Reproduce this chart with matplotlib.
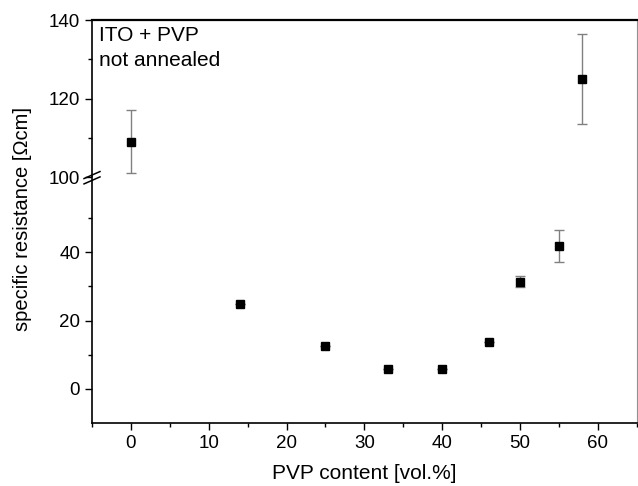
import matplotlib
matplotlib.use("Agg")
import matplotlib.pyplot as plt
from matplotlib.lines import Line2D
from matplotlib.ticker import MultipleLocator, FixedLocator

plt.rcParams["font.family"] = ["Liberation Sans", "DejaVu Sans"]

# PVP content [vol.%] and specific resistance [Ohm cm]
pvp_content = [0, 14, 25, 33, 40, 46, 50, 55, 58]
resistance = [109, 24.8, 12.4, 5.9, 5.8, 13.6, 31.4, 41.8, 125.0]
res_error = [8.0, 0, 0, 0, 0, 0, 1.6, 4.7, 11.4]

BREAK_LOW = 62
BREAK_HIGH = 100

fig = plt.figure(figsize=(6.38, 4.86), dpi=100)
left, right = 0.1442, 0.998
bottom, split, top = 0.1296, 0.6358, 0.9588
ax_hi = fig.add_axes([left, split, right - left, top - split])
ax_lo = fig.add_axes([left, bottom, right - left, split - bottom], sharex=ax_hi)

for ax in (ax_hi, ax_lo):
    ax.errorbar(pvp_content, resistance, yerr=res_error, fmt="s", color="black",
                ms=6, ecolor="#808080", elinewidth=1, capsize=3.5, capthick=1)
    ax.set_xlim(-5, 65)
    ax.xaxis.set_major_locator(MultipleLocator(10))
    ax.xaxis.set_minor_locator(MultipleLocator(5))
    ax.tick_params(which="both", direction="out", labelsize=13.5, width=1, right=False, top=False)
    ax.tick_params(which="major", length=5)
    ax.tick_params(which="minor", length=3)
    ax.spines["left"].set_linewidth(1.2)
    ax.spines["right"].set_color("#909090")
    ax.spines["right"].set_linewidth(0.8)

ax_hi.set_ylim(BREAK_HIGH, 140)
ax_hi.yaxis.set_major_locator(FixedLocator([100, 120, 140]))
ax_hi.yaxis.set_minor_locator(FixedLocator([110, 130]))
ax_lo.set_ylim(-10, BREAK_LOW)
ax_lo.yaxis.set_major_locator(FixedLocator([0, 20, 40]))
ax_lo.yaxis.set_minor_locator(FixedLocator([10, 30, 50]))

ax_hi.spines["bottom"].set_visible(False)
ax_hi.spines["top"].set_linewidth(1.6)
ax_hi.tick_params(axis="x", which="both", bottom=False, labelbottom=False)
ax_lo.spines["top"].set_visible(False)
ax_lo.spines["bottom"].set_linewidth(1.2)
ax_lo.set_xlabel("PVP content [vol.%]", fontsize=15, labelpad=9)

# break marks on the left spine
for dy in (0.004, -0.007):
    fig.add_artist(Line2D([left - 0.0125, left + 0.0125],
                          [split - 0.0072 + dy, split + 0.0072 + dy],
                          color="black", lw=1.1, transform=fig.transFigure))

fig.text(0.036, 0.55, "specific resistance [\u03a9cm]", rotation=90,
         ha="center", va="center", fontsize=14.5)

ax_hi.text(0.013, 0.96, "ITO + PVP\nnot annealed", transform=ax_hi.transAxes,
           ha="left", va="top", fontsize=15, linespacing=1.35)

fig.savefig("out.png", dpi=100)
